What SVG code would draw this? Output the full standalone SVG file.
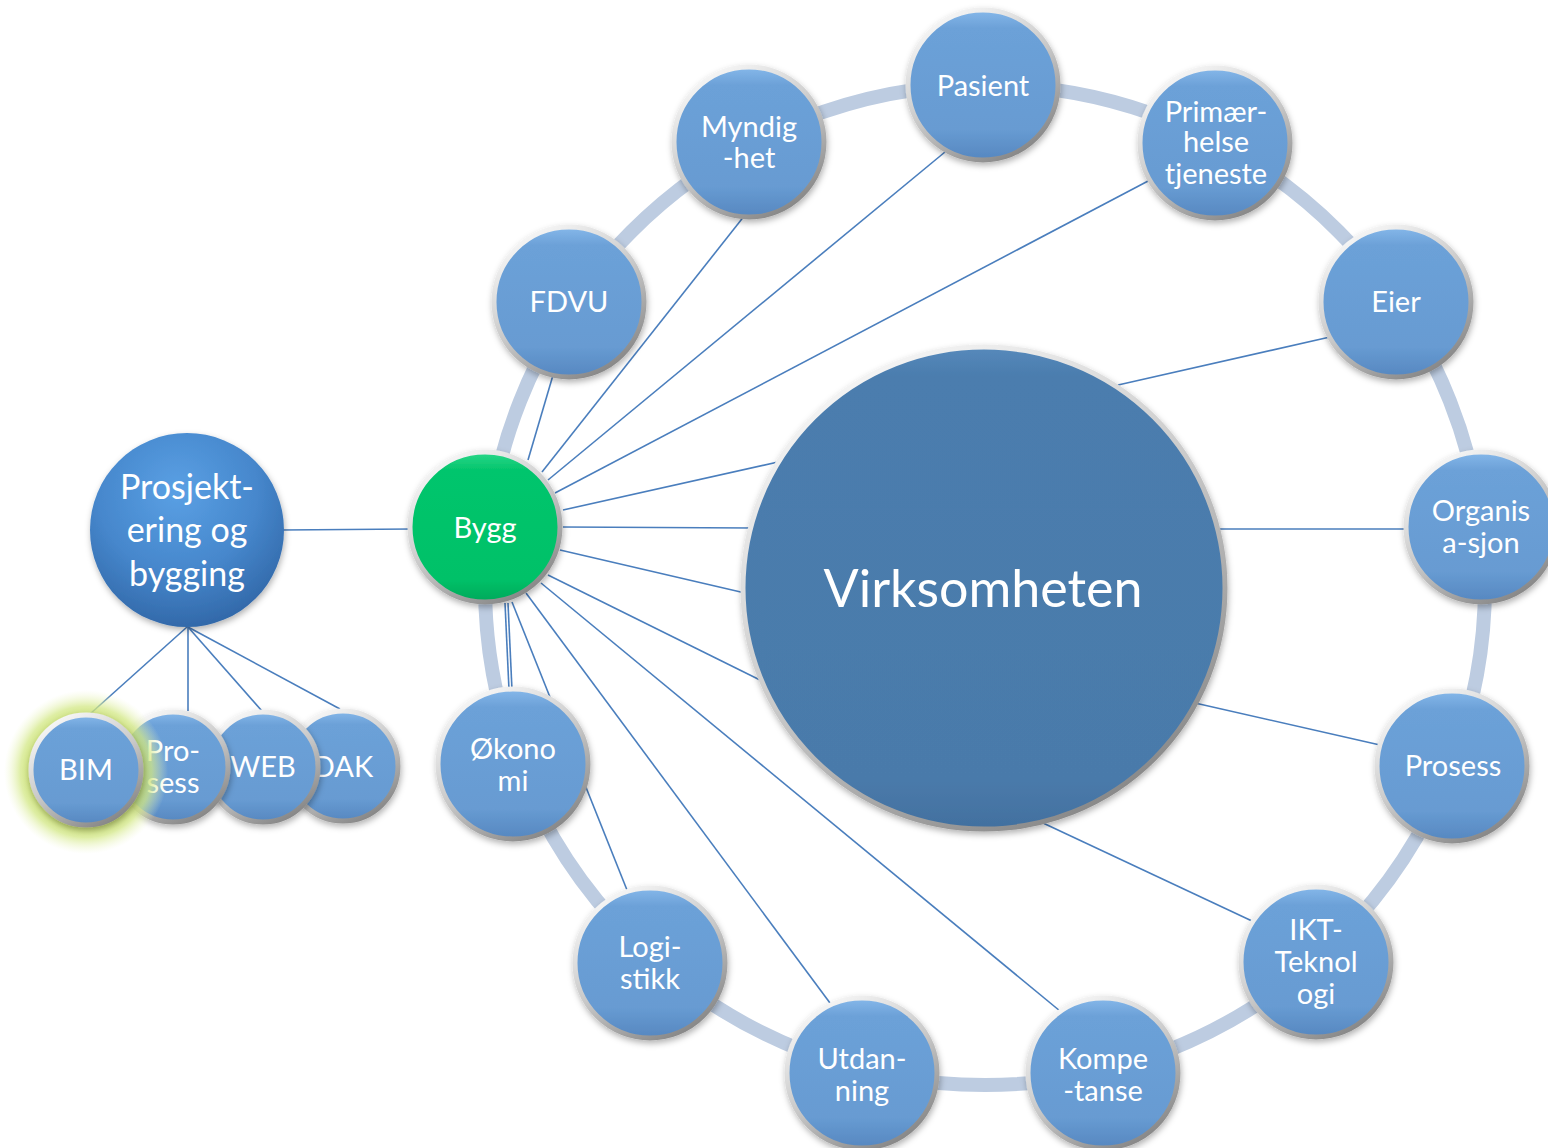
<svg xmlns="http://www.w3.org/2000/svg" width="1548" height="1148" viewBox="0 0 1548 1148">
<defs>
<linearGradient id="gBlue" x1="0" y1="0" x2="0" y2="1">
<stop offset="0" stop-color="#86b8ea"/>
<stop offset="0.12" stop-color="#6ca1d8"/>
<stop offset="0.8" stop-color="#679bd2"/>
<stop offset="1" stop-color="#5687c0"/>
</linearGradient>
<linearGradient id="gDark" x1="0" y1="0" x2="0" y2="1">
<stop offset="0" stop-color="#5689bb"/>
<stop offset="0.06" stop-color="#4b7dae"/>
<stop offset="0.9" stop-color="#4a7aaa"/>
<stop offset="1" stop-color="#42709f"/>
</linearGradient>
<linearGradient id="gGreen" x1="0" y1="0" x2="0" y2="1">
<stop offset="0" stop-color="#2cd88a"/>
<stop offset="0.12" stop-color="#03c56d"/>
<stop offset="0.85" stop-color="#00c168"/>
<stop offset="1" stop-color="#00a85a"/>
</linearGradient>
<radialGradient id="gSphere" cx="0.45" cy="0.3" r="0.75">
<stop offset="0" stop-color="#5aa0e4"/>
<stop offset="0.55" stop-color="#4687cc"/>
<stop offset="1" stop-color="#2f64a4"/>
</radialGradient>
<linearGradient id="gSilver" x1="0.2" y1="0" x2="0.8" y2="1">
<stop offset="0" stop-color="#fafafa"/>
<stop offset="0.5" stop-color="#c8c8c8"/>
<stop offset="1" stop-color="#808080"/>
</linearGradient>
<radialGradient id="gGlow" cx="0.5" cy="0.5" r="0.5">
<stop offset="0.55" stop-color="#c0db4c" stop-opacity="1"/>
<stop offset="0.8" stop-color="#d3e886" stop-opacity="0.75"/>
<stop offset="1" stop-color="#eef6c8" stop-opacity="0"/>
</radialGradient>
<filter id="shadow" x="-20%" y="-20%" width="140%" height="140%">
<feDropShadow dx="1" dy="3" stdDeviation="3" flood-color="#000" flood-opacity="0.3"/>
</filter>
<style>
.node{stroke:url(#gSilver);stroke-width:5;filter:url(#shadow)}
.blue{fill:url(#gBlue)}
.t{fill:#fff;font-family:Lato,"Open Sans","Liberation Sans",sans-serif;font-size:29px;text-anchor:middle}
.big{font-size:52px}
.mid{font-size:34px}
.conn line{stroke:#4a7ebd;stroke-width:1.6}
</style>
</defs>
<rect width="1548" height="1148" fill="#fff"/>
<circle id="ring" cx="985" cy="585" r="500" fill="none" stroke="#bdcce1" stroke-width="14"/>
<g id="connectors" class="conn">
<line x1="528" y1="460" x2="556" y2="365"/>
<line x1="542" y1="472" x2="745" y2="215"/>
<line x1="548" y1="480" x2="945" y2="152"/>
<line x1="555" y1="493" x2="1150" y2="180"/>
<line x1="563" y1="510" x2="778" y2="462"/>
<line x1="563" y1="527" x2="752" y2="528"/>
<line x1="560" y1="550" x2="745" y2="593"/>
<line x1="548" y1="575" x2="762" y2="681"/>
<line x1="541" y1="583" x2="1060" y2="1011"/>
<line x1="526" y1="593" x2="830" y2="1003"/>
<line x1="512" y1="602" x2="627" y2="890"/>
<line x1="505" y1="603" x2="509" y2="690"/>
<line x1="508" y1="603" x2="512" y2="690"/>
<line x1="1118" y1="385" x2="1330" y2="337"/>
<line x1="1220" y1="529" x2="1408" y2="529"/>
<line x1="1195" y1="703" x2="1380" y2="745"/>
<line x1="1043" y1="823" x2="1252" y2="921"/>
<line x1="282" y1="530" x2="412" y2="529"/>
<line x1="187" y1="627" x2="90" y2="714"/>
<line x1="188" y1="627" x2="188" y2="711"/>
<line x1="188" y1="627" x2="262" y2="711"/>
<line x1="188" y1="627" x2="340" y2="709"/>
</g>
<g id="n-virksomheten">
<circle class="node" cx="984" cy="588" r="241" fill="url(#gDark)" stroke-width="6"/>
<text class="t big" x="983" y="607">Virksomheten</text>
</g>
<g id="n-prosjektering">
<circle cx="187" cy="530" r="97" fill="url(#gSphere)" filter="url(#shadow)"/>
<text class="t mid"><tspan x="187" y="499">Prosjekt-</tspan><tspan x="187" y="542">ering og</tspan><tspan x="187" y="586">bygging</tspan></text>
</g>
<g id="n-pasient"><circle class="node blue" cx="983" cy="85" r="75"/><text class="t" x="983" y="96">Pasient</text></g>
<g id="n-myndighet"><circle class="node blue" cx="749" cy="142" r="75"/><text class="t"><tspan x="749" y="137">Myndig</tspan><tspan x="749" y="168">-het</tspan></text></g>
<g id="n-primaer"><circle class="node blue" cx="1215" cy="143" r="75"/><text class="t"><tspan x="1216" y="122">Primær-</tspan><tspan x="1216" y="152">helse</tspan><tspan x="1216" y="184">tjeneste</tspan></text></g>
<g id="n-fdvu"><circle class="node blue" cx="569" cy="302" r="75"/><text class="t" x="569" y="312">FDVU</text></g>
<g id="n-eier"><circle class="node blue" cx="1396" cy="302" r="75"/><text class="t" x="1396" y="312">Eier</text></g>
<g id="n-organisasjon"><circle class="node blue" cx="1481" cy="527" r="75"/><text class="t"><tspan x="1481" y="521">Organis</tspan><tspan x="1481" y="553">a-sjon</tspan></text></g>
<g id="n-prosess"><circle class="node blue" cx="1452" cy="766" r="75"/><text class="t" x="1453" y="776">Prosess</text></g>
<g id="n-ikt"><circle class="node blue" cx="1316" cy="962" r="75"/><text class="t"><tspan x="1316" y="940">IKT-</tspan><tspan x="1316" y="972">Teknol</tspan><tspan x="1316" y="1004">ogi</tspan></text></g>
<g id="n-kompetanse"><circle class="node blue" cx="1103" cy="1073" r="75"/><text class="t"><tspan x="1103" y="1069">Kompe</tspan><tspan x="1103" y="1101">-tanse</tspan></text></g>
<g id="n-utdanning"><circle class="node blue" cx="862" cy="1073" r="75"/><text class="t"><tspan x="862" y="1069">Utdan-</tspan><tspan x="862" y="1101">ning</tspan></text></g>
<g id="n-logistikk"><circle class="node blue" cx="650" cy="963" r="75"/><text class="t"><tspan x="650" y="957">Logi-</tspan><tspan x="650" y="989">stikk</tspan></text></g>
<g id="n-okonomi"><circle class="node blue" cx="513" cy="764" r="75"/><text class="t"><tspan x="513" y="759">Økono</tspan><tspan x="513" y="791">mi</tspan></text></g>
<g id="n-bygg"><circle class="node" cx="485" cy="527" r="75" fill="url(#gGreen)"/><text class="t" x="485" y="538">Bygg</text></g>
<g id="n-dak"><circle class="node blue" cx="343" cy="766" r="55"/><text class="t" x="343" y="777">DAK</text></g>
<g id="n-web"><circle class="node blue" cx="263" cy="767" r="55"/><text class="t" x="263" y="777">WEB</text></g>
<g id="n-prosess2"><circle class="node blue" cx="173" cy="767" r="55"/><text class="t"><tspan x="173" y="761">Pro-</tspan><tspan x="173" y="793">sess</tspan></text></g>
<g id="n-bim">
<circle cx="86" cy="772" r="82" fill="url(#gGlow)"/>
<circle class="node blue" cx="86" cy="770" r="55"/><text class="t" x="86" y="780">BIM</text>
</g>
</svg>
